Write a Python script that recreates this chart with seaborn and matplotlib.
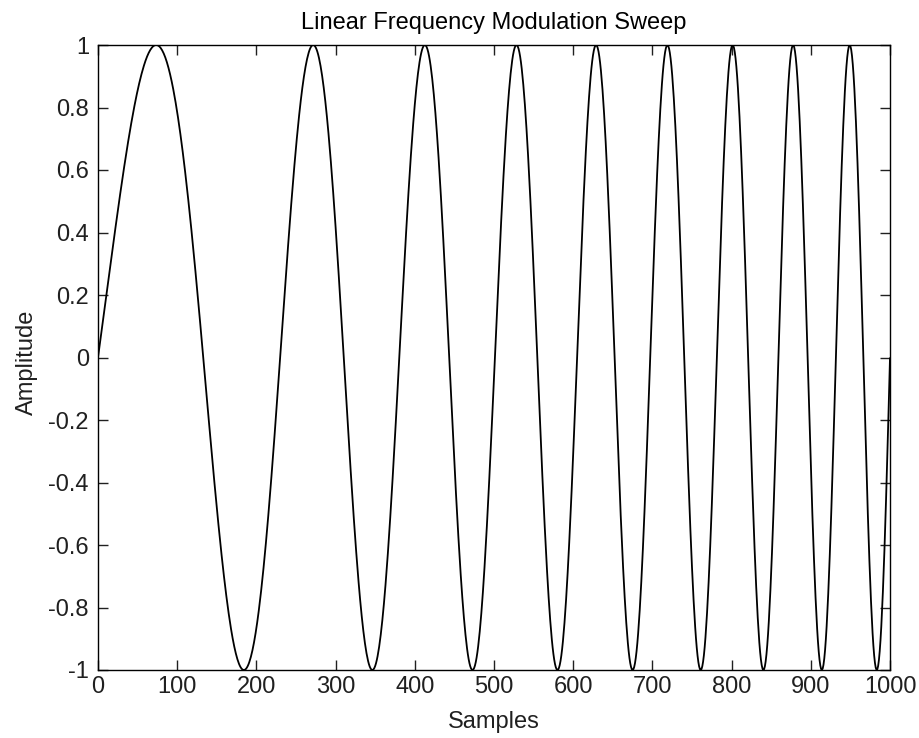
import numpy as np
import pandas as pd
import matplotlib
matplotlib.use("Agg")
import matplotlib.pyplot as plt
import seaborn as sns

# Values: sample positions of the peaks (+1) and troughs (-1)
peak_samples = [73, 270, 413, 528, 630, 720, 800, 875, 948]
trough_samples = [185, 345, 473, 580, 677, 762, 840, 913, 986]
x_ticks = [0, 100, 200, 300, 400, 500, 600, 700, 800, 900, 1000]
y_ticks = [-1, -0.8, -0.6, -0.4, -0.2, 0, 0.2, 0.4, 0.6, 0.8, 1]
title = "Linear Frequency Modulation Sweep"
xlabel = "Samples"
ylabel = "Amplitude"

# Cycle count at each read extremum (peak -> k+0.25, trough -> k+0.75), starting at 0 at sample 0
ext_x = np.array([0] + peak_samples + trough_samples, dtype=float)
ext_c = np.array([0.0] + [k + 0.25 for k in range(len(peak_samples))]
                 + [k + 0.75 for k in range(len(trough_samples))])
# linear FM => cycle count is quadratic in sample index (no constant term)
A = np.vstack([ext_x, ext_x ** 2]).T
coef, *_ = np.linalg.lstsq(A, ext_c, rcond=None)
samples = np.arange(0, 1001)
cycles = coef[0] * samples + coef[1] * samples ** 2
df = pd.DataFrame({"Samples": samples, "Amplitude": np.sin(2 * np.pi * cycles)})

sns.set_theme(style="white")
plt.rcParams["font.family"] = ["Liberation Sans", "DejaVu Sans"]
fs = 17

fig = plt.figure(figsize=(9.19, 7.38), dpi=100)
ax = fig.add_axes([98 / 919, 1 - 670 / 738, (890 - 98) / 919, (670 - 45) / 738])
sns.lineplot(data=df, x="Samples", y="Amplitude", ax=ax, color="black", linewidth=1.3)

ax.set_xlim(0, 1000)
ax.set_ylim(-1, 1)
ax.set_xticks(x_ticks)
ax.set_yticks(y_ticks)
ax.set_xticklabels([str(v) for v in x_ticks])
ax.set_yticklabels(["%g" % v for v in y_ticks])
ax.tick_params(direction="in", length=7, width=1, colors="#202020", labelsize=fs,
               top=True, right=True, bottom=True, left=True, pad=6.5)
ax.tick_params(axis="x", pad=4.5)
for s in ax.spines.values():
    s.set_color("black")
    s.set_linewidth(1)
ax.set_title(title, fontsize=fs, color="black", pad=11.5)
ax.set_xlabel(xlabel, fontsize=fs, color="#202020")
ax.set_ylabel(ylabel, fontsize=fs, color="#202020")
ax.xaxis.set_label_coords(0.5, -0.066)
ax.yaxis.set_label_coords(-0.0755, 0.492)

fig.savefig("out.png", dpi=100, facecolor="white")
